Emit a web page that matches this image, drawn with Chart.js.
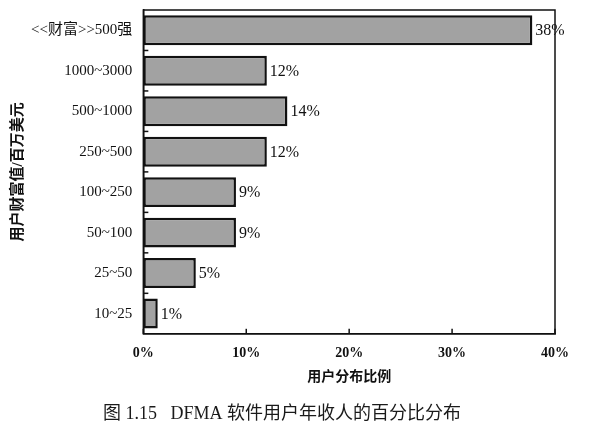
<!DOCTYPE html>
<html>
<head>
<meta charset="utf-8">
<script src="https://cdn.jsdelivr.net/npm/chart.js@4/dist/chart.umd.min.js"></script>
<style>
html,body{margin:0;padding:0;background:#fff;}
#wrap{width:603px;height:428px;}
</style>
</head>
<body>
<div id="wrap"><canvas id="c" width="603" height="428"></canvas></div>
<script>
const categories = ['<<财富>>500强','1000~3000','500~1000','250~500','100~250','50~100','25~50','10~25'];
const shares = [37.8, 12, 14, 12, 9, 9, 5.1, 1.4];
const shareLabels = ['38%','12%','14%','12%','9%','9%','5%','1%'];
const xTicks = [0, 10, 20, 30, 40];
const yTitle = '用户财富值/百万美元';
const xTitle = '用户分布比例';
const caption = '图 1.15   DFMA 软件用户年收人的百分比分布';

const SERIF = '"Liberation Serif", "Noto Sans CJK SC", serif';

const framePlugin = {
  id: 'frame',
  afterDatasetsDraw(chart) {
    const {ctx, chartArea: a, scales} = chart;
    ctx.save();
    ctx.strokeStyle = '#111';
    ctx.lineWidth = 1.5;
    ctx.strokeRect(a.left, a.top, a.right - a.left, a.bottom - a.top);
    xTicks.forEach(v => {
      const x = scales.x.getPixelForValue(v);
      ctx.beginPath(); ctx.moveTo(x, a.bottom); ctx.lineTo(x, a.bottom - 5); ctx.stroke();
    });
    for (let i = 0; i < categories.length - 1; i++) {
      const y = (scales.y.getPixelForValue(i) + scales.y.getPixelForValue(i + 1)) / 2;
      ctx.beginPath(); ctx.moveTo(a.left, y); ctx.lineTo(a.left + 5, y); ctx.stroke();
    }
    ctx.fillStyle = '#111';
    ctx.font = '16px ' + SERIF;
    ctx.textBaseline = 'middle';
    ctx.textAlign = 'left';
    const meta = chart.getDatasetMeta(0);
    meta.data.forEach((bar, i) => {
      ctx.fillText(shareLabels[i], bar.x + 3, bar.y + 1);
    });
    ctx.restore();
  }
};

new Chart(document.getElementById('c'), {
  type: 'bar',
  data: {
    labels: categories,
    datasets: [{
      data: shares,
      backgroundColor: '#a2a2a2',
      borderColor: '#111',
      borderWidth: 2.5,
      borderSkipped: false,
      categoryPercentage: 1,
      barPercentage: 0.74
    }]
  },
  options: {
    indexAxis: 'y',
    responsive: false,
    animation: false,
    devicePixelRatio: 1,
    layout: {padding: {left: 9, right: 48, top: 10, bottom: 3}},
    plugins: {
      legend: {display: false},
      tooltip: {enabled: false},
      title: {
        display: true,
        position: 'bottom',
        text: caption,
        color: '#1a1a1a',
        font: {family: SERIF, size: 18, weight: 'normal'},
        padding: {top: 18, bottom: 0}
      }
    },
    scales: {
      x: {
        min: 0, max: 40,
        afterBuildTicks(scale) { scale.ticks = xTicks.map(v => ({value: v})); },
        afterFit(scale) { scale.height -= 9; },
        grid: {display: false, drawTicks: false},
        border: {display: true, color: '#111', width: 1.5},
        ticks: {
          color: '#111',
          padding: 11,
          font: {family: SERIF, size: 14, weight: 'bold'},
          callback: v => v + '%'
        },
        title: {
          display: true, text: xTitle, color: '#111',
          font: {family: SERIF, size: 14, weight: 'bold'},
          padding: {top: 5, bottom: 0}
        }
      },
      y: {
        offset: true,
        grid: {display: false, drawTicks: false},
        border: {display: true, color: '#111', width: 1.5},
        afterFit(scale) { scale.width -= 13; scale.paddingTop = 0; scale.paddingBottom = 0; },
        ticks: {
          color: '#111',
          padding: 11,
          font: {family: SERIF, size: 15}
        },
        title: {
          display: true, text: yTitle, color: '#111',
          font: {family: SERIF, size: 15, weight: 'bold'},
          padding: {top: 0, bottom: 6}
        }
      }
    }
  },
  plugins: [framePlugin]
});
</script>
</body>
</html>
